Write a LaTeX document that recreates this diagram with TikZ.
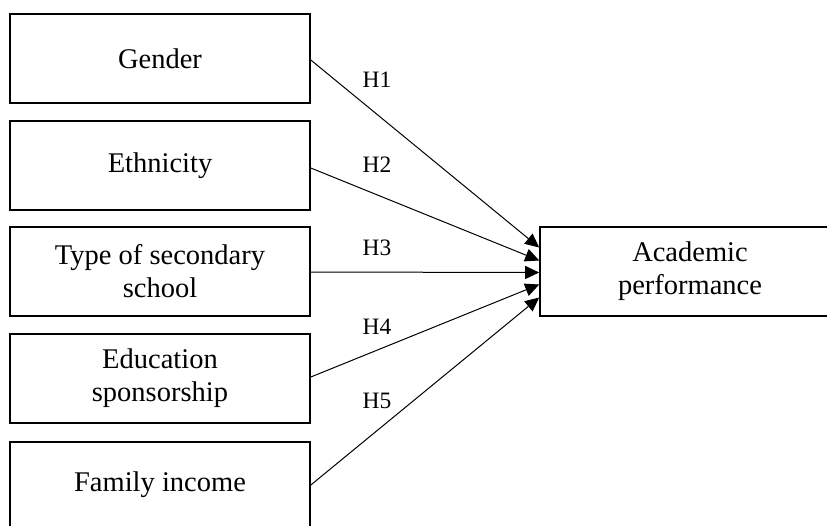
\documentclass[tikz,border=0pt]{standalone}
\usepackage{fontspec}
\setmainfont{Liberation Serif}
\usetikzlibrary{arrows.meta}
\begin{document}
\begin{tikzpicture}[x=1pt,y=-1pt,
  varbox/.style={draw,line width=1.6pt,minimum width=300pt,minimum height=89pt,inner sep=0pt,align=center,
    font=\fontsize{28.5}{33}\selectfont},
  hlabel/.style={font=\fontsize{23.5}{26}\selectfont,inner sep=0pt},
  link/.style={line width=1pt,-{Triangle[length=14pt,width=13pt]}}]
\clip (0,0) rectangle (827,525);
\fill[white] (0,0) rectangle (827,525);
\node[varbox] (gen) at (160,58.5) {Gender};
\node[varbox] (eth) at (160,165.5) {Ethnicity};
\node[varbox] (typ) at (160,271.5) {Type of secondary\\school};
\node[varbox] (edu) at (160,378.5) {Education\\sponsorship};
\node[varbox,minimum height=86pt] (fam) at (160,485) {Family income};
\node[varbox] (acad) at (690,271.5) {Academic\\performance};
\draw[link] ([yshift=-1.5pt]gen.east) -- ([yshift=24pt]acad.west);
\draw[link] ([yshift=-2.5pt]eth.east) -- ([yshift=11pt]acad.west);
\draw[link] ([yshift=-0.5pt]typ.east) -- ([yshift=-1pt]acad.west);
\draw[link] ([yshift=1.5pt]edu.east) -- ([yshift=-13pt]acad.west);
\draw[link] (fam.east) -- ([yshift=-26pt]acad.west);
\node[hlabel] (h1) at (377,80) {H1};
\node[hlabel] (h2) at (377,165) {H2};
\node[hlabel] (h3) at (377,248) {H3};
\node[hlabel] (h4) at (377,327) {H4};
\node[hlabel] (h5) at (377,401) {H5};
\end{tikzpicture}
\end{document}
